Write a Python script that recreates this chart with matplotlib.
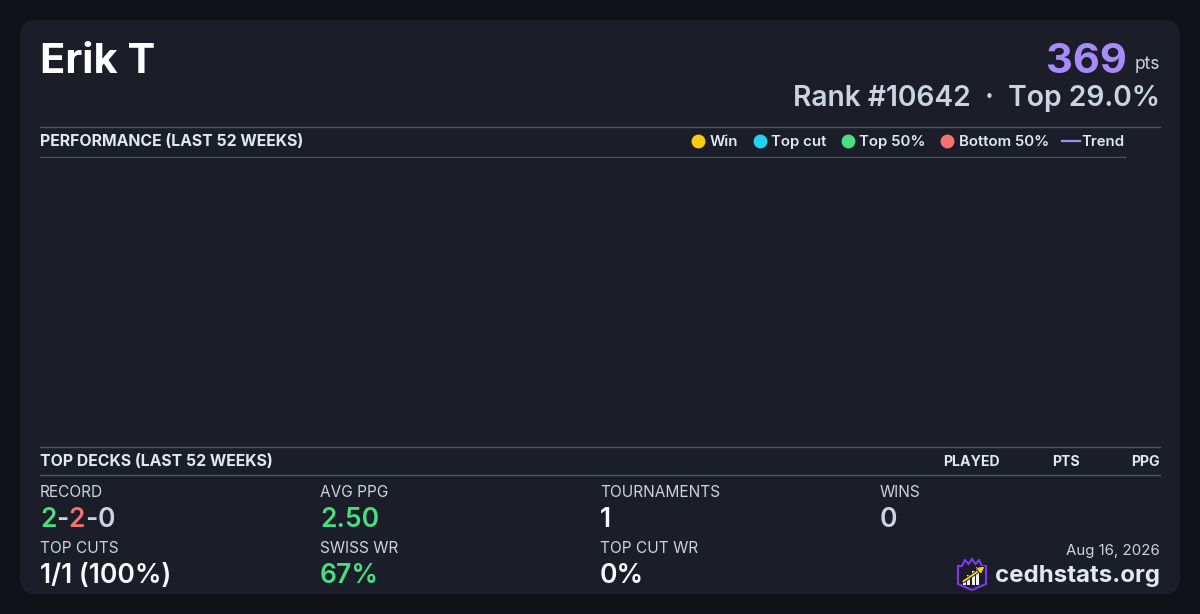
import matplotlib
matplotlib.use("Agg")
import matplotlib.pyplot as plt
import matplotlib.patheffects as pe
from matplotlib.patches import FancyBboxPatch, Polygon, Rectangle
from matplotlib.lines import Line2D

plt.rcParams['font.family'] = ['Inter', 'DejaVu Sans']

# ---------------- data ----------------
player_name = "Erik T"
points = "369"
rank = "#10642"
top_pct = "29.0%"
perf_title = "PERFORMANCE (LAST 52 WEEKS)"
legend_labels = ["Win", "Top cut", "Top 50%", "Bottom 50%", "Trend"]
legend_colors = ["#facc15", "#22d3ee", "#4ade80", "#f87171", "#a78bfa"]
weeks = []          # no results in last 52 weeks
week_points = []
decks_title = "TOP DECKS (LAST 52 WEEKS)"
deck_columns = ["PLAYED", "PTS", "PPG"]
record = [("2", "#4ade80"), ("-", "#cbd5e1"), ("2", "#f87171"), ("-", "#cbd5e1"), ("0", "#cbd5e1")]
stat_labels_row1 = ["RECORD", "AVG PPG", "TOURNAMENTS", "WINS"]
stat_values_row1 = [None, "2.50", "1", "0"]
stat_colors_row1 = [None, "#4ade80", "#f8fafc", "#cbd5e1"]
stat_labels_row2 = ["TOP CUTS", "SWISS WR", "TOP CUT WR"]
stat_values_row2 = ["1/1 (100%)", "67%", "0%"]
stat_colors_row2 = ["#f8fafc", "#4ade80", "#f8fafc"]
date_text = "Aug 16, 2026"
site = "cedhstats.org"

# ---------------- figure ----------------
W, H = 1200, 614
fig = plt.figure(figsize=(W / 100, H / 100), dpi=100)
fig.patch.set_facecolor("#111217")
bg = fig.add_axes([0, 0, 1, 1])
bg.set_xlim(0, W)
bg.set_ylim(H, 0)
bg.axis("off")

CARD = "#1b1d28"
LINE = "#4a5468"
card = FancyBboxPatch((20, 20), 1160, 574, boxstyle="round,pad=0,rounding_size=16",
                      fc=CARD, ec="none")
bg.add_patch(card)

# header
bg.text(40, 73, player_name, fontsize=30, fontweight="bold", color="#ffffff", va="baseline", ha="left")
bg.text(1160, 69, "pts", fontsize=12.5, color="#cbd5e1", va="baseline", ha="right")
bg.text(1127, 73, points, fontsize=30, fontweight="bold", color="#a78bfa", va="baseline", ha="right")
bg.text(1160, 106, f"Rank {rank}  \u00b7  Top {top_pct}", fontsize=20.3, fontweight="semibold",
        color="#cbd5e1", va="baseline", ha="right")

# section lines
bg.plot([40, 1160], [126.5, 126.5], color=LINE, lw=1)
bg.plot([40, 1125], [156.5, 156.5], color=LINE, lw=1)
bg.plot([40, 1160], [446.5, 446.5], color=LINE, lw=1)
bg.plot([40, 1160], [474.5, 474.5], color=LINE, lw=1)

bg.text(40, 142, perf_title, fontsize=11.4, fontweight="bold", color="#e2e8f0", va="center", ha="left")

# performance chart (empty)
ax = fig.add_axes([40 / W, 1 - 446 / H, (1125 - 40) / W, (446 - 158) / H])
ax.set_facecolor(CARD)
ax.plot(weeks, week_points, color=legend_colors[4])
for s in ax.spines.values():
    s.set_visible(False)
ax.set_xticks([])
ax.set_yticks([])

handles = []
for lab, col in zip(legend_labels[:4], legend_colors[:4]):
    handles.append(Line2D([], [], marker="o", ls="none", markersize=9, mfc=col, mec=col, label=lab))
handles.append(Line2D([], [], color=legend_colors[4], lw=1.6, label=legend_labels[4]))
leg = fig.legend(handles=handles, loc="center right", bbox_to_anchor=(1125 / W, 1 - 142 / H),
                 ncol=5, frameon=False, handlelength=1.2, handletextpad=0.15, columnspacing=0.85,
                 borderpad=0, borderaxespad=0,
                 prop={"size": 10.8, "weight": "semibold"})
for t in leg.get_texts():
    t.set_color("#e2e8f0")

# top decks header
bg.text(40, 462, decks_title, fontsize=11.4, fontweight="bold", color="#e2e8f0", va="center", ha="left")
for lab, xr in zip(deck_columns, [1000, 1080, 1160]):
    bg.text(xr, 462, lab, fontsize=10.2, fontweight="bold", color="#e2e8f0", va="center", ha="right")

# stats
cols_x = [40, 320, 600, 880]
LABEL_C = "#cbd5e1"
for x, lab in zip(cols_x, stat_labels_row1):
    bg.text(x, 497, lab, fontsize=11.1, color=LABEL_C, va="baseline", ha="left")
for x, lab in zip(cols_x, stat_labels_row2):
    bg.text(x, 553, lab, fontsize=11.1, color=LABEL_C, va="baseline", ha="left")

# record with colored pieces
prev = bg.text(40, 527, record[0][0], fontsize=19, fontweight="semibold", color=record[0][1],
               va="baseline", ha="left")
for txt, col in record[1:]:
    prev = bg.annotate(txt, xy=(1, 0), xycoords=prev, fontsize=19, fontweight="semibold",
                       color=col, va="bottom", ha="left")

for x, v, c in zip(cols_x[1:], stat_values_row1[1:], stat_colors_row1[1:]):
    bg.text(x, 527, v, fontsize=19, fontweight="semibold", color=c, va="baseline", ha="left")
for x, v, c in zip(cols_x, stat_values_row2, stat_colors_row2):
    bg.text(x, 583, v, fontsize=19, fontweight="semibold", color=c, va="baseline", ha="left")

# footer
bg.text(1160, 555, date_text, fontsize=10.8, color=LABEL_C, va="baseline", ha="right")
bg.text(1160, 582, site, fontsize=17.3, fontweight="bold", color="#e2e8f0", va="baseline", ha="right")

# logo
shield = Polygon([(958, 566), (962, 566), (965, 560), (968.5, 564), (972, 559), (975.5, 564),
                  (979, 560), (982, 566), (986, 566), (986, 584), (972, 590), (958, 584)],
                 closed=True, fc="#1b1d28", ec="#7c3aed", lw=1.5, joinstyle="miter")
bg.add_patch(shield)
for bx, bh in [(962.5, 6), (967, 10), (971.5, 14), (976, 18)]:
    bg.add_patch(Rectangle((bx, 585 - bh), 3.2, bh, fc="#f1f5f9", ec="none"))
bg.annotate("", xy=(987, 565), xytext=(961, 583),
            arrowprops=dict(arrowstyle="-|>", color="#facc15", lw=1.4, mutation_scale=8,
                            path_effects=[pe.withStroke(linewidth=2.6, foreground="#111217")]))

fig.savefig("out.png", dpi=100, facecolor=fig.get_facecolor())
